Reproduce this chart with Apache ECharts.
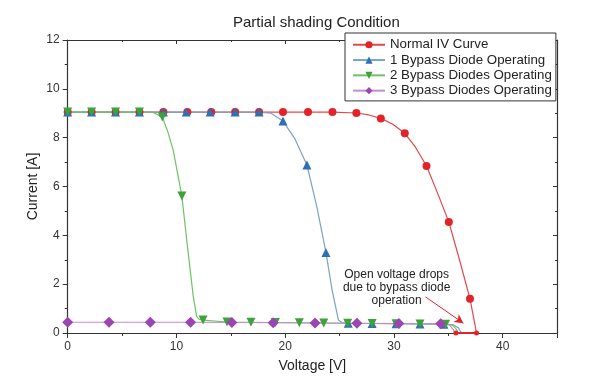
<!DOCTYPE html>
<html>
<head>
<meta charset="utf-8">
<script src="https://cdn.jsdelivr.net/npm/echarts@6/dist/echarts.min.js"></script>
<style>html,body{margin:0;padding:0;background:#fff}#c{width:594px;height:383px}</style>
</head>
<body>
<div id="c"></div>
<script>
var seriesNames = ['Normal IV Curve','1 Bypass Diode Operating','2 Bypass Diodes Operating','3 Bypass Diodes Operating'];
var xTicks = [0,10,20,30,40];
var yTicks = [0,2,4,6,8,10,12];

// points with markers [V, A]
var normalMarked = [[0,9.05],[2.2,9.05],[4.4,9.05],[6.6,9.05],[8.8,9.05],[11.0,9.05],[13.2,9.05],[15.4,9.05],[17.6,9.05],[19.8,9.05],[22.1,9.05],[24.35,9.05],[26.55,9.01],[28.8,8.79],[31.0,8.18],[33.0,6.84],[35.05,4.55],[37.0,1.40]];
// points read from the curve between markers (no marker)
var normalCurve = [[27.7,8.93],[29.9,8.55],[32.0,7.6],[34.0,5.75],[36.0,3.05],[37.3,0.7],[37.6,0]];

var oneMarked = [[0,9.05],[2.2,9.05],[4.4,9.05],[6.6,9.05],[8.8,9.05],[10.9,9.05],[13.1,9.05],[15.4,9.05],[17.6,9.05],[19.8,8.68],[22.0,6.88],[23.75,3.30],[25.8,0.40],[28.0,0.39],[30.2,0.38],[32.4,0.37],[34.6,0.36]];
var oneCurve = [[18.7,9.0],[20.9,7.95],[22.9,5.2],[24.3,1.8],[24.9,0.53],[25.2,0.43],[35.5,0.33],[35.95,0.2],[36.2,0]];

var twoMarked = [[0,9.05],[2.2,9.05],[4.4,9.05],[6.6,9.05],[8.7,8.85],[10.5,5.61],[12.45,0.53],[14.65,0.45],[16.85,0.44],[19.1,0.43],[21.3,0.42],[23.55,0.41],[25.75,0.40],[28.0,0.39],[30.2,0.38],[32.4,0.37],[34.75,0.36]];
var twoCurve = [[7.8,9.04],[9.2,8.25],[9.7,7.5],[11.0,3.6],[11.55,1.49],[11.86,0.67],[12.1,0.56],[35.4,0.32],[35.75,0.15],[35.9,0]];

var threeMarked = [[0,0.44],[3.8,0.44],[7.6,0.44],[11.3,0.44],[15.1,0.43],[18.9,0.42],[22.75,0.41],[26.6,0.40],[30.45,0.39],[34.3,0.38]];
var threeCurve = [[35.1,0.33],[35.45,0.15],[35.6,0]];

var dropBar = [[35.7,0],[37.6,0]];
var arrowFrom = [32.9,1.48], arrowTo = [36.4,0.40];
var noteAt = [30.25,1.84];
var noteText = 'Open voltage drops\ndue to bypass diode\noperation';

function build(marked, curve){
  var all = marked.map(function(p){return {value:p};})
    .concat(curve.map(function(p){return {value:p, symbol:'none'};}));
  all.sort(function(a,b){return a.value[0]-b.value[0];});
  return all;
}

var FONT = '"Liberation Sans", Arial, sans-serif';
var chart = echarts.init(document.getElementById('c'));

function mkSeries(name, marked, curve, sym, sz, lineColor, markColor){
  return {
    name: name, type: 'line', data: build(marked, curve),
    symbol: sym, symbolSize: sz, showAllSymbol: true,
    lineStyle: {color: lineColor, width: 1.2},
    itemStyle: {color: markColor},
    emphasis: {disabled: true}, animation: false, clip: false
  };
}

var series = [
  mkSeries(seriesNames[0], normalMarked, normalCurve, 'circle', 8, '#e5474a', '#e3232a'),
  mkSeries(seriesNames[1], oneMarked, oneCurve, 'triangle', 9, '#7aa3c6', '#2f6fb5'),
  mkSeries(seriesNames[2], twoMarked, twoCurve, 'path://M0,0 L10,0 L5,9 Z', 9, '#72c067', '#3da23a'),
  mkSeries(seriesNames[3], threeMarked, threeCurve, 'diamond', 11, '#c58bd3', '#9a45b3'),
  {
    name: 'drop', type: 'line', data: dropBar, symbol: 'circle', symbolSize: 5,
    lineStyle: {color: '#e3232a', width: 2}, itemStyle: {color: '#e3232a'},
    animation: false, clip: false, emphasis: {disabled: true},
    markLine: {
      silent: true, symbol: ['none','arrow'], symbolSize: [7,9],
      lineStyle: {color: '#e3232a', width: 1, type: 'solid'},
      label: {show: false},
      data: [[{coord: arrowFrom}, {coord: arrowTo}]]
    },
    markPoint: {
      silent: true, symbol: 'circle', symbolSize: 0,
      data: [{coord: noteAt}],
      label: {show: true, position: 'inside', formatter: noteText, color: '#222',
        fontFamily: FONT, fontSize: 12, lineHeight: 13, align: 'center'}
    }
  }
];

chart.setOption({
  backgroundColor: '#fff',
  animation: false,
  title: {text: 'Partial shading Condition', left: 228, top: 10,
    textStyle: {fontFamily: FONT, fontSize: 15, fontWeight: 'normal', color: '#222'}},
  legend: {
    data: seriesNames, orient: 'vertical', left: 345, top: 33,
    itemWidth: 32, itemHeight: 9, itemGap: 0.8,
    padding: [4.5, 4, 3, 7], borderColor: '#333', borderWidth: 1, backgroundColor: '#fff',
    textStyle: {fontFamily: FONT, fontSize: 13.3, lineHeight: 14.5, color: '#222'}
  },
  grid: {left: 67.7, right: 37, top: 40, bottom: 50},
  xAxis: [{
    type: 'value', min: 0, max: 45, interval: 10,
    name: 'Voltage [V]', nameLocation: 'middle', nameGap: 26, nameMoveOverlap: false,
    nameTextStyle: {fontFamily: FONT, fontSize: 14, color: '#222'},
    axisLine: {show: true, onZero: false, lineStyle: {color: '#333', width: 1.2}},
    axisTick: {show: true, inside: false, length: 5, lineStyle: {color: '#333'}},
    minorTick: {show: true, splitNumber: 2, length: 3, lineStyle: {color: '#333'}},
    axisLabel: {fontFamily: FONT, fontSize: 12, color: '#333', margin: 8, showMaxLabel: false,
      formatter: function(v){ return xTicks.indexOf(v) >= 0 ? String(v) : ''; }},
    splitLine: {show: false}
  }, {
    type: 'value', min: 0, max: 45, interval: 10, position: 'top',
    axisLine: {show: true, onZero: false, lineStyle: {color: '#333', width: 1.2}},
    axisTick: {show: true, inside: true, length: 4, lineStyle: {color: '#333'}},
    minorTick: {show: true, splitNumber: 2, length: 2, lineStyle: {color: '#333'}},
    axisLabel: {show: false}, splitLine: {show: false}
  }],
  yAxis: [{
    type: 'value', min: 0, max: 12, interval: 2,
    name: 'Current [A]', nameLocation: 'middle', nameGap: 28, nameRotate: 90, nameMoveOverlap: false,
    nameTextStyle: {fontFamily: FONT, fontSize: 14, color: '#222'},
    axisLine: {show: true, onZero: false, lineStyle: {color: '#333', width: 1.2}},
    axisTick: {show: true, inside: false, length: 5, lineStyle: {color: '#333'}},
    minorTick: {show: true, splitNumber: 2, length: 3, lineStyle: {color: '#333'}},
    axisLabel: {fontFamily: FONT, fontSize: 12, color: '#333', margin: 8,
      formatter: function(v){ return yTicks.indexOf(v) >= 0 ? String(v) : ''; }},
    splitLine: {show: false}
  }, {
    type: 'value', min: 0, max: 12, interval: 2, position: 'right',
    axisLine: {show: true, onZero: false, lineStyle: {color: '#333', width: 1.2}},
    axisTick: {show: true, inside: true, length: 4, lineStyle: {color: '#333'}},
    minorTick: {show: true, splitNumber: 2, length: 2, lineStyle: {color: '#333'}},
    axisLabel: {show: false}, splitLine: {show: false}
  }],
  series: series
});
</script>
</body>
</html>
